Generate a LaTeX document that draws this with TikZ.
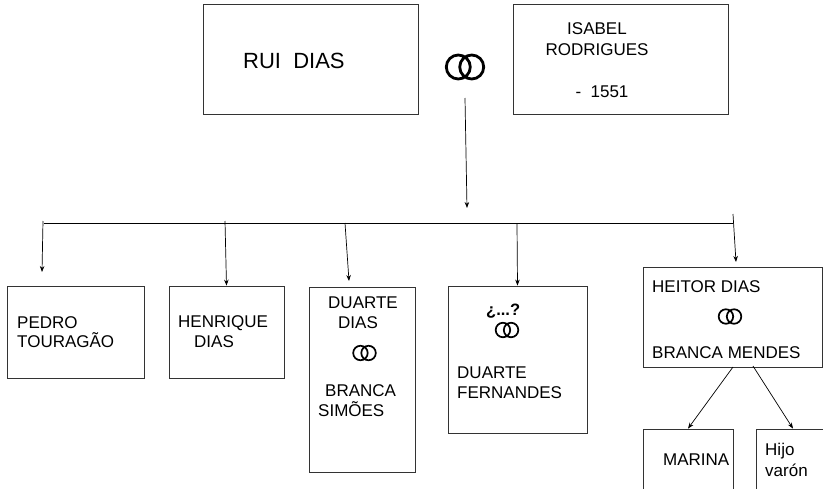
\documentclass[tikz,border=0pt]{standalone}
\usepackage{fontspec}
\setmainfont{Liberation Sans}
\usetikzlibrary{arrows.meta}

\begin{document}
\begin{tikzpicture}[x=1pt,y=-1pt,
  box/.style={draw=black!80,line width=0.8pt,inner sep=0pt},
  who/.style={anchor=base west,inner sep=0pt,font=\fontsize{17}{20}\selectfont},
  link/.style={line width=0.7pt,-{Stealth[length=6pt,width=4.5pt]}},
  rings/.pic={\draw (-0.28,0) circle (0.5) (0.28,0) circle (0.5);}]
\clip (0,0) rectangle (823,488);

% parents
\node[box,minimum width=215pt,minimum height=110pt] (rui) at (310.5,59) {};
\node[who,font=\fontsize{22}{26}\selectfont] (ruiT) at (243,68) {RUI\ \ DIAS};
\node[box,minimum width=215pt,minimum height=110pt] (isabel) at (620.5,59) {};
\node[who,anchor=base] (isabelA) at (597,34) {ISABEL};
\node[who,anchor=base] (isabelB) at (597,55) {RODRIGUES};
\node[who,anchor=base] (isabelC) at (602,97) {-\ \ 1551};
\pic[scale=24,line width=2.8pt] at (465,67) {rings};

\coordinate (c0) at (465,98);
\coordinate (c1) at (467,208);
\draw[link] (c0) -- (c1);

% children
\coordinate (busL) at (44,223);
\coordinate (busR) at (733,223);
\draw[line width=0.8pt] (busL) -- (busR);

\node[box,minimum width=137pt,minimum height=92pt] (pedro) at (75.5,332) {};
\node[who] (pedroA) at (17,328) {PEDRO};
\node[who] (pedroB) at (17,347) {TOURAGÃO};
\coordinate (t1) at (43,221);
\coordinate (e1) at (42,272);
\draw[link] (t1) -- (e1);

\node[box,minimum width=115pt,minimum height=92pt] (henrique) at (226.5,332) {};
\node[who] (henriqueA) at (178,327) {HENRIQUE};
\node[who] (henriqueB) at (194,347) {DIAS};
\coordinate (t2) at (225,221);
\draw[link] (t2) -- (henrique.north);

\node[box,minimum width=106pt,minimum height=185pt] (duarte) at (362,379.5) {};
\node[who] (duarteA) at (328,308) {DUARTE};
\node[who] (duarteB) at (338,328) {DIAS};
\pic[scale=14.5,line width=1.7pt] at (364.5,353) {rings};
\node[who] (duarteC) at (325,396) {BRANCA};
\node[who] (duarteD) at (318,416) {SIMÕES};
\coordinate (t3) at (345,223);
\coordinate (e3) at (349,281);
\draw[link] (t3) -- (e3);

\node[box,minimum width=139pt,minimum height=147pt] (fernandes) at (517.5,359.5) {};
\node[who,font=\fontsize{16.5}{19}\selectfont\bfseries] (fernandesA) at (486,315) {¿...?};
\pic[scale=14.5,line width=1.7pt] at (507,330) {rings};
\node[who] (fernandesB) at (457,378) {DUARTE};
\node[who] (fernandesC) at (457,398) {FERNANDES};
\coordinate (t4) at (517,223);
\draw[link] (t4) -- (fernandes.north);

\node[box,minimum width=179pt,minimum height=100pt] (heitor) at (732.5,317) {};
\node[who] (heitorA) at (652,292) {HEITOR DIAS};
\pic[scale=14.5,line width=1.7pt] at (730,316.5) {rings};
\node[who] (heitorB) at (652,358) {BRANCA MENDES};
\coordinate (t5) at (733,214);
\coordinate (e5) at (736,262);
\draw[link] (t5) -- (e5);

% grandchildren
\node[box,minimum width=90pt,minimum height=71pt] (marina) at (688,464.5) {};
\node[who] (marinaT) at (663,465) {MARINA};
\node[box,minimum width=74pt,minimum height=71pt] (hijo) at (793,464.5) {};
\node[who] (hijoA) at (765,455) {Hijo};
\node[who] (hijoB) at (765,476) {varón};
\coordinate (h1) at (733,367);
\coordinate (h2) at (753,366);
\draw[link] (h1) -- (marina.north);
\draw[link] (h2) -- (hijo.north);
\end{tikzpicture}
\end{document}
